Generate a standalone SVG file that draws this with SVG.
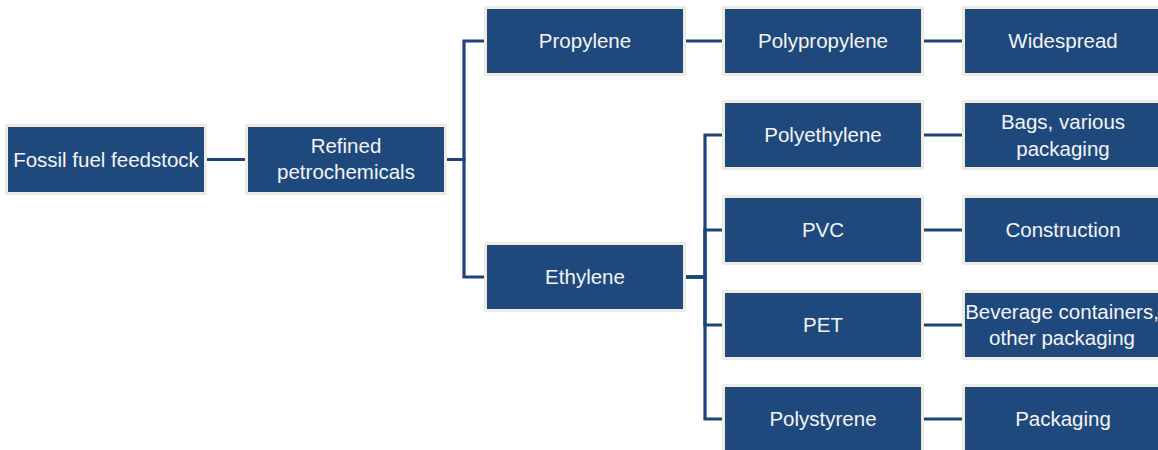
<svg xmlns="http://www.w3.org/2000/svg" width="1158" height="450" viewBox="0 0 1158 450">
<style>
.box{fill:#1f497d;stroke:#eeece1;stroke-width:3}
.t{font-family:"Liberation Sans",Arial,sans-serif;font-size:20.5px;fill:#f4f4f4;text-anchor:middle}
.c{fill:none;stroke:#1d4577;stroke-width:3.2}
</style>
<rect width="1158" height="450" fill="#ffffff"/>
<g id="connectors">
<path class="c" d="M207,159.5 H245"/>
<path class="c" d="M446,159.5 H464 V41 H484"/>
<path class="c" d="M446,159.5 H464 V277 H484"/>
<path class="c" d="M686,41 H722"/>
<path class="c" d="M686,277 H705 V135 H722"/>
<path class="c" d="M686,277 H705 V230 H722"/>
<path class="c" d="M686,277 H705 V325 H722"/>
<path class="c" d="M686,277 H705 V419 H722"/>
<path class="c" d="M924,41 H962"/>
<path class="c" d="M924,135 H962"/>
<path class="c" d="M924,230 H962"/>
<path class="c" d="M924,325 H962"/>
<path class="c" d="M924,419 H962"/>
</g>
<g id="fossil"><rect class="box" x="6.5" y="125.5" width="199" height="68"/><text class="t" x="106" y="166.5">Fossil fuel feedstock</text></g>
<g id="refined"><rect class="box" x="246.5" y="125.5" width="199" height="68"/><text class="t" x="346" y="152.5">Refined</text><text class="t" x="346" y="178.5">petrochemicals</text></g>
<g id="propylene"><rect class="box" x="485.5" y="7.5" width="199" height="67"/><text class="t" x="585" y="48">Propylene</text></g>
<g id="ethylene"><rect class="box" x="485.5" y="243.5" width="199" height="67"/><text class="t" x="585" y="284">Ethylene</text></g>
<g id="polypropylene"><rect class="box" x="723.5" y="7.5" width="199" height="67"/><text class="t" x="823" y="48">Polypropylene</text></g>
<g id="polyethylene"><rect class="box" x="723.5" y="101.5" width="199" height="67"/><text class="t" x="823" y="142">Polyethylene</text></g>
<g id="pvc"><rect class="box" x="723.5" y="196.5" width="199" height="67"/><text class="t" x="823" y="237">PVC</text></g>
<g id="pet"><rect class="box" x="723.5" y="291.5" width="199" height="67"/><text class="t" x="823" y="332">PET</text></g>
<g id="polystyrene"><rect class="box" x="723.5" y="385.5" width="199" height="67"/><text class="t" x="823" y="426">Polystyrene</text></g>
<g id="widespread"><rect class="box" x="963.5" y="7.5" width="199" height="67"/><text class="t" x="1063" y="48">Widespread</text></g>
<g id="bags"><rect class="box" x="963.5" y="101.5" width="199" height="67"/><text class="t" x="1063" y="128.5">Bags, various</text><text class="t" x="1063" y="155.5">packaging</text></g>
<g id="construction"><rect class="box" x="963.5" y="196.5" width="199" height="67"/><text class="t" x="1063" y="237">Construction</text></g>
<g id="beverage"><rect class="box" x="963.5" y="291.5" width="199" height="67"/><text class="t" x="1062" y="318.5">Beverage containers,</text><text class="t" x="1062" y="345">other packaging</text></g>
<g id="packaging"><rect class="box" x="963.5" y="385.5" width="199" height="67"/><text class="t" x="1063" y="426">Packaging</text></g>
</svg>
